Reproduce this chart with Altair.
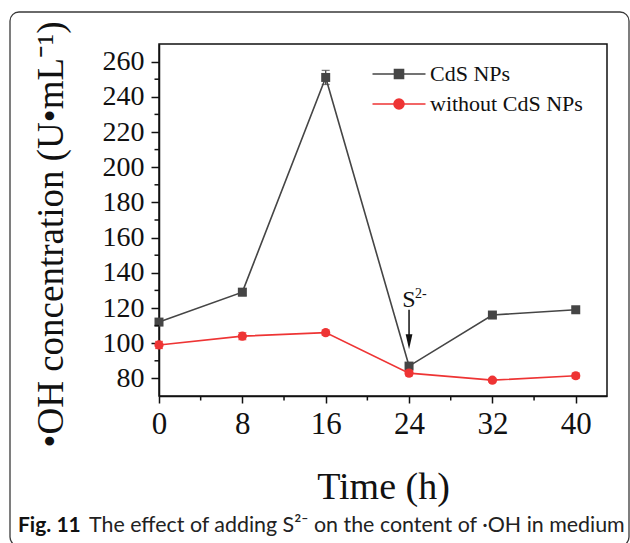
import altair as alt
import pandas as pd

# Measured hydroxyl radical content over time
time_h = [0, 8, 16, 24, 32, 40]
cds_np = [112, 129, 251, 87, 116, 119]
cds_np_err = [1.5, 2.0, 4.0, 1.5, 1.5, 1.5]
no_cds = [99, 104, 106, 83, 79, 81.5]
no_cds_err = [2.0, 2.0, 1.5, 1.5, 1.0, 1.5]

series_names = ["CdS NPs", "without CdS NPs"]
series_colors = ["#454545", "#ee3434"]
series_shapes = ["square", "circle"]
series_sizes = [81, 85]

x_ticks = [0, 8, 16, 24, 32, 40]
x_minor = [4, 12, 20, 28, 36]
y_ticks = [80, 100, 120, 140, 160, 180, 200, 220, 240, 260]
y_minor = [90, 110, 130, 150, 170, 190, 210, 230, 250]

# S2- addition marker (time, label height, arrow shaft top/bottom, arrow tip)
s2_time = 24
s2_label_y = 120.6
s2_shaft = (119.0, 104.0)
s2_head_y = 100.8

rows = []
for name, vals, errs in [(series_names[0], cds_np, cds_np_err),
                         (series_names[1], no_cds, no_cds_err)]:
    for t, v, e in zip(time_h, vals, errs):
        rows.append({"series": name, "time": t, "value": v, "lo": v - e, "hi": v + e})
df = pd.DataFrame(rows)

serif = "Liberation Serif"
ink = "#111111"

x_scale = alt.Scale(domain=[0, 43], nice=False, zero=False)
y_scale = alt.Scale(domain=[70, 270], nice=False, zero=False)

x_axis = alt.Axis(
    values=x_ticks, title="Time (h)", grid=False,
    tickSize=7, tickWidth=1.5, tickColor=ink, domainWidth=1.5, domainColor=ink,
    labelFont=serif, labelFontSize=31, labelColor=ink, labelPadding=6, labelFlush=False,
    titleFont=serif, titleFontSize=38, titleFontWeight="normal", titleColor=ink,
    titleBaseline="alphabetic", titleY=102,
)
y_axis = alt.Axis(
    values=y_ticks, title="•OH concentration (U•mL⁻¹)", grid=False,
    tickSize=8, tickWidth=1.5, tickColor=ink, domainWidth=1.5, domainColor=ink,
    labelFont=serif, labelFontSize=28, labelColor=ink, labelPadding=7,
    titleFont=serif, titleFontSize=37, titleFontWeight="normal", titleColor=ink,
    titleAngle=270, titleAlign="center", titleBaseline="alphabetic",
    titleX=-97, titleY=190,
)


def xq(field):
    return alt.X(field, type="quantitative", scale=x_scale, axis=x_axis)


def yq(field):
    return alt.Y(field, type="quantitative", scale=y_scale, axis=y_axis)


layers = []
for name, col, shp, sz in zip(series_names, series_colors, series_shapes, series_sizes):
    s = alt.Chart(df).transform_filter(alt.datum.series == name)
    layers.append(s.mark_line(strokeWidth=1.6, color=col).encode(x=xq("time"), y=yq("value")))
    layers.append(s.mark_rule(strokeWidth=1.3, color=col).encode(
        x=xq("time"), y=yq("lo"), y2="hi:Q"))
    layers.append(s.mark_tick(orient="horizontal", size=8, thickness=1.3, color=col).encode(
        x=xq("time"), y=yq("lo")))
    layers.append(s.mark_tick(orient="horizontal", size=8, thickness=1.3, color=col).encode(
        x=xq("time"), y=yq("hi")))
    layers.append(s.mark_point(filled=True, shape=shp, size=sz, opacity=1, color=col).encode(
        x=xq("time"), y=yq("value")))

# Legend keys: a line segment with the series marker in the middle
legend_paths = [
    "M-2.65,0H2.65M-0.45,-0.45H0.45V0.45H-0.45Z",
    "M-2.65,0H2.65M0.5,0A0.5,0.5,0,1,1,-0.5,0A0.5,0.5,0,1,1,0.5,0Z",
]
legend_kw = dict(
    title=None, orient="none", legendX=229, legendY=19, padding=0,
    symbolSize=400, symbolStrokeWidth=1.6,
    labelFont=serif, labelFontSize=22, labelColor=ink, labelOffset=20, rowPadding=8,
)
legend_layer = alt.Chart(df).transform_filter("false").mark_point(
    filled=True, size=400, strokeWidth=1.6, opacity=1
).encode(
    x=xq("time"), y=yq("value"),
    color=alt.Color("series:N", scale=alt.Scale(domain=series_names, range=series_colors),
                    legend=alt.Legend(**legend_kw)),
    stroke=alt.Stroke("series:N", scale=alt.Scale(domain=series_names, range=series_colors),
                      legend=alt.Legend(**legend_kw)),
    shape=alt.Shape("series:N", scale=alt.Scale(domain=series_names, range=legend_paths),
                    legend=alt.Legend(**legend_kw)),
)

# Minor ticks
y_minor_ticks = alt.Chart(pd.DataFrame({"v": y_minor})).mark_rule(strokeWidth=1.5, color=ink).encode(
    y=yq("v"), x=alt.value(-4.5), x2=alt.value(0)
)
x_minor_ticks = alt.Chart(pd.DataFrame({"v": x_minor})).mark_rule(strokeWidth=1.5, color=ink).encode(
    x=xq("v"), y=alt.value(352), y2=alt.value(356.5)
)

# S2- annotation with downward arrow
ann = alt.Chart(pd.DataFrame({"t": [s2_time], "ly": [s2_label_y], "a1": [s2_shaft[0]],
                              "a2": [s2_shaft[1]], "hy": [s2_head_y]}))
s_text = ann.mark_text(font=serif, fontSize=24, color=ink, align="center", baseline="alphabetic").encode(
    x=xq("t"), y=yq("ly"), text=alt.value("S")
)
s_sup = ann.mark_text(font=serif, fontSize=14, color=ink, align="left", baseline="alphabetic",
                      dx=6, dy=-9).encode(
    x=xq("t"), y=yq("ly"), text=alt.value("2-")
)
shaft = ann.mark_rule(strokeWidth=1.5, color=ink).encode(x=xq("t"), y=yq("a1"), y2="a2:Q")
head = ann.mark_point(filled=True, shape="M-0.45,-1L0.45,-1L0,1Z", size=225, opacity=1, color=ink).encode(
    x=xq("t"), y=yq("hy")
)

# Figure frame and caption
one = alt.Chart(pd.DataFrame({"k": [0]}))
frame = one.mark_rect(fillOpacity=0, stroke="#3a3a3a", strokeWidth=1.3, cornerRadius=9).encode(
    x=alt.value(10 - 159), x2=alt.value(629 - 159), y=alt.value(12 - 44), y2=alt.value(546 - 44)
)
cap_bold = one.mark_text(font="Lato", fontSize=21, fontWeight="bold", color=ink,
                         align="left", baseline="alphabetic").encode(
    x=alt.value(18 - 159), y=alt.value(532 - 44), text=alt.value("Fig. 11")
)
cap_text = one.mark_text(font="Lato", fontSize=21.4, color="#222222",
                         align="left", baseline="alphabetic").encode(
    x=alt.value(89 - 159), y=alt.value(532 - 44),
    text=alt.value("The effect of adding S²⁻ on the content of ·OH in medium"),
)

chart = alt.layer(
    frame, *layers, legend_layer,
    y_minor_ticks, x_minor_ticks, s_text, s_sup, shaft, head, cap_bold, cap_text,
).properties(
    width=448, height=352,
    padding={"left": 159, "top": 44, "right": 23, "bottom": 147},
    autosize=alt.AutoSizeParams(type="none"),
    background="white",
).configure_view(stroke=ink, strokeWidth=1.5)

chart.save("out.html", embed_options={"renderer": "svg", "actions": False})
